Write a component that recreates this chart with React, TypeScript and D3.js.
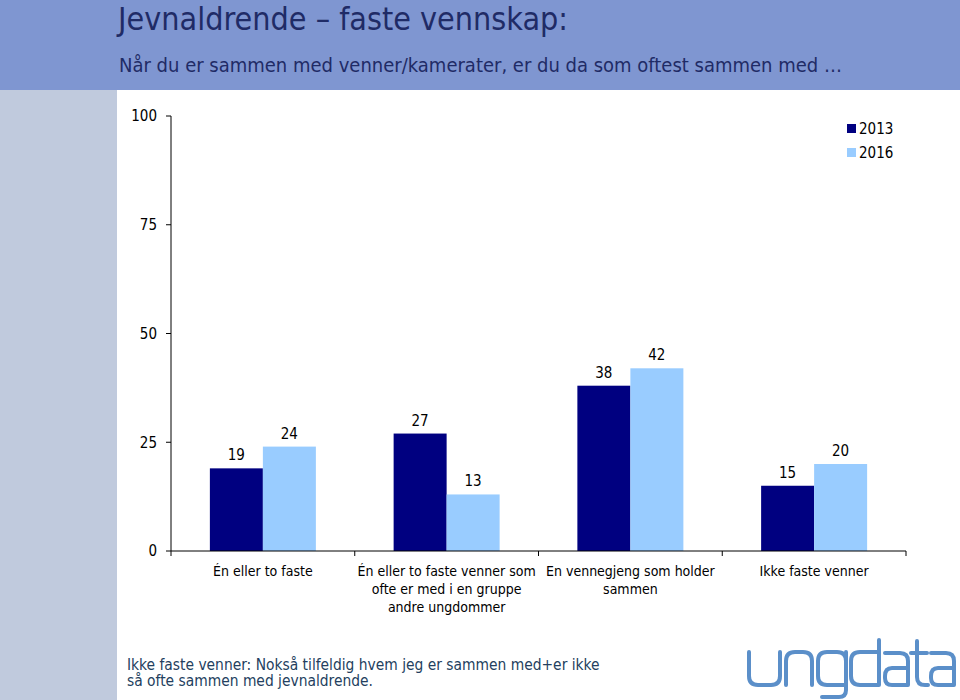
import React from "react";
import * as d3 from "d3";

const categories: string[][] = [
  ["Én eller to faste"],
  ["Én eller to faste venner som", "ofte er med i en gruppe", "andre ungdommer"],
  ["En vennegjeng som holder", "sammen"],
  ["Ikke faste venner"],
];
const seriesNames = ["2013", "2016"];
const values2013 = [19, 27, 38, 15];
const values2016 = [24, 13, 42, 20];
const yTicks = [0, 25, 50, 75, 100];
const seriesColors = ["#000080", "#99CCFF"];

const title = "Jevnaldrende – faste vennskap:";
const subtitle = "Når du er sammen med venner/kamerater, er du da som oftest sammen med …";
const footnote = [
  "Ikke faste venner: Nokså tilfeldig hvem jeg er sammen med+er ikke",
  "så ofte sammen med jevnaldrende.",
];

const FONT = "'DejaVu Sans Condensed', 'DejaVu Sans', sans-serif";

// decorative logo strokes ("ungdata")
const logoPaths = [
  "M749,652 V676 Q749,685 758,685 H771 Q780,685 780,676 V652",
  "M786,685 V661 Q786,652 795,652 H803 Q812,652 812,661 V685",
  "M846,661 Q846,652 837,652 H827 Q818,652 818,661 V676 Q818,685 827,685 H846",
  "M846,652 V690 Q846,697 839,697 H822",
  "M879,640 V685 H860 Q851,685 851,676 V661 Q851,652 860,652 H879",
  "M885,653 H900 Q908,653 908,661 V685 H892 Q885,685 885,678 V676 Q885,668 892,668 H908",
  "M917,641 V677 Q917,685 925,685 H928",
  "M911,653 H927",
  "M931,653 H946 Q954,653 954,661 V685 H938 Q931,685 931,678 V676 Q931,668 938,668 H954",
];

export default function App() {
  const W = 960, H = 700;
  const plotLeft = 171, plotRight = 906, plotTop = 116, plotBottom = 551;
  const x = d3.scaleBand<number>().domain(d3.range(categories.length)).range([plotLeft, plotRight]).paddingInner(0).paddingOuter(0);
  const groupW = 106;
  const xs = d3.scaleBand<number>().domain(d3.range(seriesNames.length)).range([0, groupW]);
  const y = d3.scaleLinear().domain([0, 100]).range([plotBottom, plotTop]);
  const series = [values2013, values2016];
  const boundaries = d3.range(categories.length + 1).map((i) => (i < categories.length ? (x(i) as number) : plotRight));

  return (
    <svg width={W} height={H} style={{ position: "absolute", left: 0, top: 0, display: "block" }} xmlns="http://www.w3.org/2000/svg">
      <rect x={0} y={0} width={W} height={H} fill="#ffffff" />
      <rect x={0} y={0} width={W} height={90} fill="#7F96D1" />
      <rect x={0} y={90} width={117} height={H - 90} fill="#C0CADD" />
      <text x={118} y={30} fontFamily={FONT} fontSize={32} fill="#1F2B66">{title}</text>
      <text x={119} y={72} fontFamily={FONT} fontSize={20} fill="#1F2B66">{subtitle}</text>

      {/* bars */}
      {series.map((vals, si) =>
        vals.map((v, ci) => {
          const bx = (x(ci) as number) + (x.bandwidth() - groupW) / 2 + (xs(si) as number);
          return (
            <g key={`${si}-${ci}`}>
              <rect x={bx} y={y(v)} width={xs.bandwidth()} height={plotBottom - y(v)} fill={seriesColors[si]} />
              <text x={bx + xs.bandwidth() / 2} y={y(v) - 8} textAnchor="middle" fontFamily={FONT} fontSize={15} fill="#000">{v}</text>
            </g>
          );
        })
      )}

      {/* y axis */}
      <line x1={plotLeft} x2={plotLeft} y1={plotTop} y2={plotBottom} stroke="#000" strokeWidth={1} />
      {yTicks.map((t) => (
        <g key={t}>
          <line x1={plotLeft - 5} x2={plotLeft} y1={y(t)} y2={y(t)} stroke="#000" />
          <text x={plotLeft - 14} y={y(t)} dy="0.35em" textAnchor="end" fontFamily={FONT} fontSize={15} fill="#000">{t}</text>
        </g>
      ))}

      {/* x axis */}
      <line x1={plotLeft} x2={plotRight} y1={plotBottom} y2={plotBottom} stroke="#000" />
      {boundaries.map((b, i) => (
        <line key={i} x1={b} x2={b} y1={plotBottom} y2={plotBottom + 5} stroke="#000" />
      ))}
      {categories.map((lines, ci) => (
        <text key={ci} textAnchor="middle" fontFamily={FONT} fontSize={14} fill="#000">
          {lines.map((l, li) => (
            <tspan key={li} x={(x(ci) as number) + x.bandwidth() / 2} y={576 + li * 18}>{l}</tspan>
          ))}
        </text>
      ))}

      {/* legend */}
      {seriesNames.map((s, i) => (
        <g key={s}>
          <rect x={847} y={124 + i * 24} width={9} height={9} fill={seriesColors[i]} />
          <text x={859} y={129 + i * 24} dy="0.35em" fontFamily={FONT} fontSize={15} fill="#000">{s}</text>
        </g>
      ))}

      {/* footnote */}
      <text fontFamily={FONT} fontSize={15.4} fill="#243F60">
        {footnote.map((l, i) => (
          <tspan key={i} x={127} y={669.5 + i * 16.5}>{l}</tspan>
        ))}
      </text>

      {/* logo */}
      <g fill="none" stroke="#5B8FC9" strokeWidth={4} strokeLinecap="round" strokeLinejoin="round">
        {logoPaths.map((d, i) => (
          <path key={i} d={d} />
        ))}
      </g>
    </svg>
  );
}
